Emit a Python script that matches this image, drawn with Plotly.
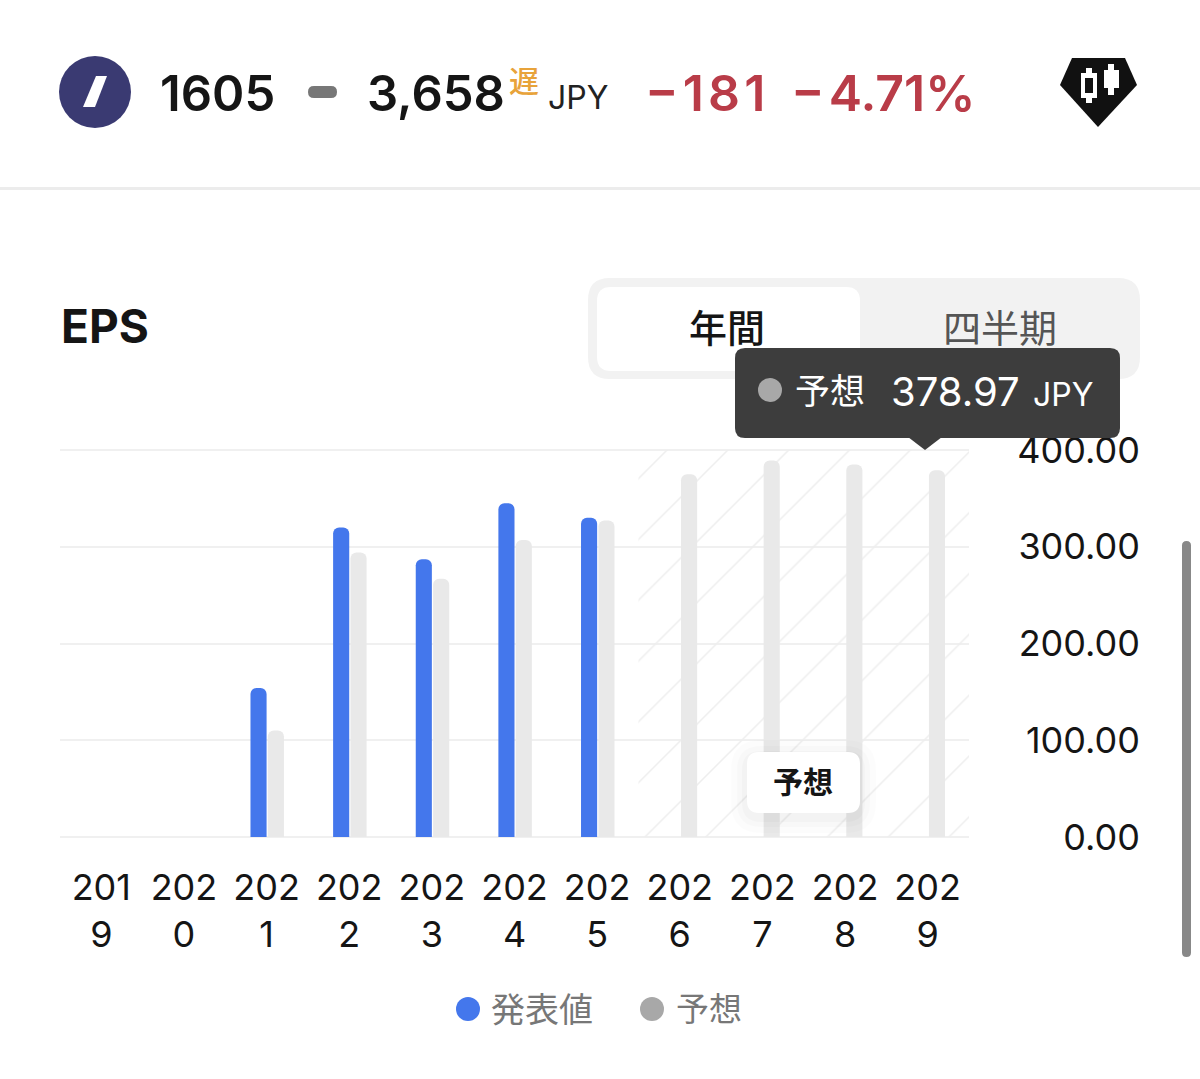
import plotly.graph_objects as go

W, H = 1200, 1079
years = [2019, 2020, 2021, 2022, 2023, 2024, 2025, 2026, 2027, 2028, 2029]
actual = [None, None, 154, 320, 287, 345, 330, None, None, None, None]
forecast = [None, None, 110, 294, 267, 307, 327, 375, 389, 385, 378.97]
y_ticks = [0, 100, 200, 300, 400]
forecast_years = years[7:]

LAT = "Inter, 'Noto Sans CJK JP', sans-serif"
BLUE, GREY = "#4477ec", "#e9e9e9"

px = lambda v: v / W
py = lambda v: 1 - v / H
pos = list(range(len(years)))
labels = [f"{str(y)[:3]}<br>{str(y)[3:]}" for y in years]

fig = go.Figure()
# hatched forecast zone
fig.add_trace(go.Bar(
    x=[pos[7] + (len(forecast_years) - 1) / 2], y=[y_ticks[-1]], width=[len(forecast_years)],
    marker=dict(color="rgba(0,0,0,0)", cornerradius=0, line_width=0,
                pattern=dict(shape="/", size=43, solidity=0.035, fgcolor="#eeeeee",
                             bgcolor="rgba(0,0,0,0)", fillmode="replace")),
    hoverinfo="skip", showlegend=False))
fig.add_trace(go.Bar(name="発表値", x=pos, y=actual, width=0.195, offset=-0.195,
                     marker=dict(color=BLUE, cornerradius=6, line_width=0)))
fig.add_trace(go.Bar(name="予想", x=pos, y=forecast, width=0.195, offset=0.015,
                     marker=dict(color=GREY, cornerradius=6, line_width=0)))

shapes, notes = [], []
# the two end gridlines, which the axis itself leaves out
for v in (y_ticks[0], y_ticks[-1]):
    shapes.append(dict(type="line", xref="paper", yref="y", x0=px(60), x1=px(969), y0=v, y1=v,
                       layer="below", line=dict(color="#f0f0f0", width=2)))
def path(d, color, opacity=1):
    shapes.append(dict(type="path", path=d, xref="paper", yref="paper", fillcolor=color,
                       line_width=0, opacity=opacity))
def rrect(x0, y0, x1, y1, r, color, opacity=1):
    P = lambda a, b: f"{px(a):.5f},{py(b):.5f}"
    d = (f"M {P(x0+r,y0)} L {P(x1-r,y0)} Q {P(x1,y0)} {P(x1,y0+r)} L {P(x1,y1-r)} Q {P(x1,y1)} {P(x1-r,y1)} "
         f"L {P(x0+r,y1)} Q {P(x0,y1)} {P(x0,y1-r)} L {P(x0,y0+r)} Q {P(x0,y0)} {P(x0+r,y0)} Z")
    path(d, color, opacity)
def poly(points, color):
    path("M " + " L ".join(f"{px(a):.5f},{py(b):.5f}" for a, b in points) + " Z", color)
def box(x0, y0, x1, y1, color):
    poly([(x0, y0), (x1, y0), (x1, y1), (x0, y1)], color)
def dot(cx, cy, r, color):
    shapes.append(dict(type="circle", x0=px(cx-r), x1=px(cx+r), y0=py(cy-r), y1=py(cy+r),
                       xref="paper", yref="paper", fillcolor=color, line_width=0))
def text(x, y, s, size, color="#111", weight=400, anchor="left"):
    notes.append(dict(x=px(x), y=py(y), xref="paper", yref="paper", text=s, showarrow=False,
                      xanchor=anchor, yanchor="middle", align=anchor,
                      font=dict(family=LAT, size=size, color=color, weight=weight)))

HS = "\u200a"
# header
dot(95, 92, 36, "#3a3a72")
poly([(96, 76), (107, 76), (95, 107), (83, 107)], "#ffffff")
text(158, 93, "1605", 49, "#151515", 600)
rrect(308, 86, 337, 98, 6, "#777777")
text(365, 93, "3,658", 49, "#151515", 600)
text(507, 81, "遅", 30, "#e8a33a", 500)
text(546, 97, "JPY", 32, "#222222")
text(643, 93, f"−{HS}1{HS}8{HS}1", 50, "#b93c48", 600)
text(789, 93, f"−{HS}4.71%", 50, "#b93c48", 600)
poly([(1072, 58), (1125, 58), (1137, 85), (1098, 127), (1060, 85)], "#111111")
box(1086, 68, 1092, 103, "#ffffff")
box(1081, 73, 1097, 98, "#ffffff")
box(1085, 78, 1093, 93, "#111111")
box(1108, 64, 1114, 95, "#ffffff")
box(1104, 70, 1119, 88, "#ffffff")
box(0, 187, 1200, 190, "#ececec")

# title and switch
text(59, 326, "EPS", 46, "#151515", 700)
rrect(588, 278, 1140, 379, 22, "#f2f2f2")
rrect(597, 287, 860, 371, 14, "#ffffff")
text(727, 328, "年間", 38, "#151515", 500, "center")
text(1000, 328, "四半期", 38, "#555555", 400, "center")

# tooltip
rrect(735, 348, 1120, 438, 10, "#3d3d3d")
poly([(908, 437), (942, 437), (925, 450)], "#3d3d3d")
dot(770, 390, 12, "#a8a8a8")
text(793, 391, "予想", 35, "#ffffff")
text(889, 391, f"{forecast[-1]:.2f}", 40, "#ffffff")
text(1031, 394, "JPY", 32, "#ffffff")

# badge
for g, o in [(16, .012), (10, .015), (5, .02)]:
    rrect(747-g, 752-g+4, 860+g, 813+g+4, 14+g, "#000000", o)
rrect(747, 752, 860, 813, 12, "#ffffff")
text(803, 782, "予想", 30, "#151515", 700, "center")

# scrollbar
rrect(1182, 541, 1191, 957, 4.5, "#888888")

# legend
dot(468, 1009, 12, BLUE)
text(489, 1009, "発表値", 34, "#777777")
dot(652, 1009, 12, "#a8a8a8")
text(674, 1009, "予想", 33, "#777777")

fig.update_layout(
    width=W, height=H, margin=dict(l=0, r=0, t=0, b=0, autoexpand=False), autosize=False,
    paper_bgcolor="#ffffff", plot_bgcolor="#ffffff", barmode="overlay", showlegend=False,
    shapes=shapes, annotations=notes,
    xaxis=dict(domain=[px(60), px(969)], range=[-0.5, 10.5], tickmode="array", tickvals=pos,
               ticktext=labels, tickangle=0, showgrid=False, zeroline=False, showline=False,
               ticks="outside", ticklen=18, tickcolor="rgba(0,0,0,0)", automargin=False,
               tickfont=dict(family=LAT, size=36, color="#151515"), fixedrange=True),
    yaxis=dict(domain=[py(838), py(449)], range=[-1, 401], anchor="free", position=px(1140), side="left",
               tickmode="array", tickvals=y_ticks, ticktext=[f"{v:.2f}" for v in y_ticks],
               showgrid=True, gridcolor="#f0f0f0", gridwidth=2, zeroline=False, showline=False,
               ticks="", automargin=False,
               tickfont=dict(family=LAT, size=36, color="#151515"), fixedrange=True),
)
fig.write_html("out.html", config=dict(displayModeBar=False),
               post_script="document.body.style.margin='0';document.documentElement.style.overflow='hidden';")
